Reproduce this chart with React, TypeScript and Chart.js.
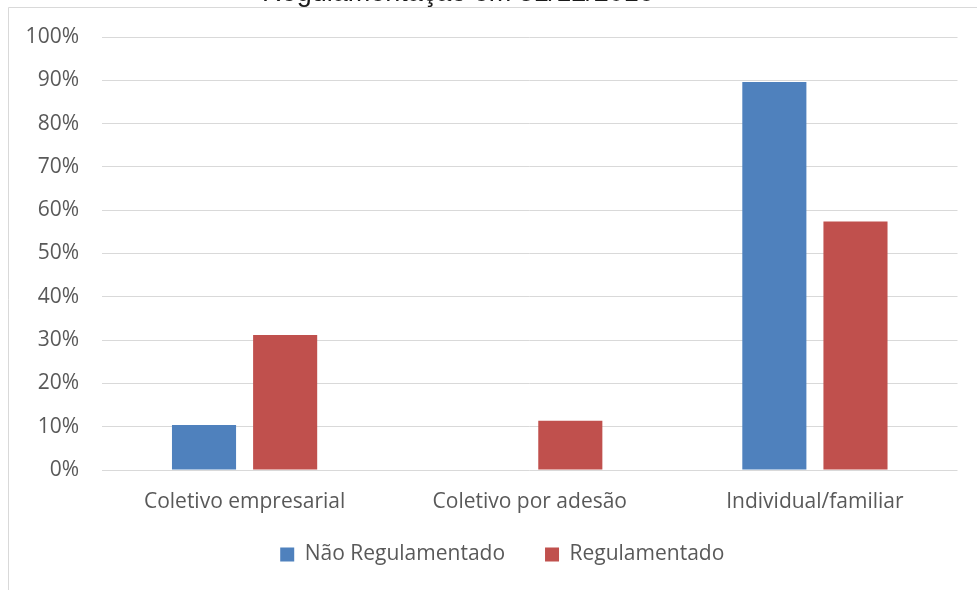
import React, { useEffect, useRef } from "react";
import { Chart, registerables } from "chart.js";

Chart.register(...registerables);

const categories = ["Coletivo empresarial", "Coletivo por adesão", "Individual/familiar"];
const naoRegulamentado = [10.4, 0, 89.6];
const regulamentado = [31.2, 11.4, 57.4];
const seriesNames = ["Não Regulamentado", "Regulamentado"];
const titleText = "Regulamentação em 31/12/2016";

const FONT = "'Open Sans', sans-serif";

const framePlugin = {
  id: "frame",
  afterLayout(chart: any) {
    const lg = chart.legend;
    if (lg) {
      lg.left += 23.5;
      lg.right += 23.5;
      lg.top -= 15;
      lg.bottom -= 15;
    }
  },
  beforeDraw(chart: any) {
    const ctx = chart.ctx;
    ctx.save();
    ctx.fillStyle = "#ffffff";
    ctx.fillRect(0, 0, chart.width, chart.height);
    ctx.strokeStyle = "#d9d9d9";
    ctx.lineWidth = 1;
    ctx.beginPath();
    ctx.moveTo(8.5, chart.height + 5);
    ctx.lineTo(8.5, 7.5);
    ctx.lineTo(chart.width + 5, 7.5);
    ctx.stroke();
    ctx.fillStyle = "#1a1a1a";
    ctx.font = "27px 'Liberation Sans', Arial, sans-serif";
    ctx.textAlign = "center";
    ctx.textBaseline = "alphabetic";
    ctx.fillText(titleText, 458, 1);
    ctx.restore();
  },
};

export default function App() {
  const ref = useRef<HTMLCanvasElement>(null);
  useEffect(() => {
    if (!ref.current) return;
    const chart = new Chart(ref.current, {
      type: "bar",
      data: {
        labels: categories,
        datasets: [
          {
            label: seriesNames[0],
            data: naoRegulamentado,
            backgroundColor: "#4F81BD",
            categoryPercentage: 0.569,
            barPercentage: 0.79,
          },
          {
            label: seriesNames[1],
            data: regulamentado,
            backgroundColor: "#C0504D",
            categoryPercentage: 0.569,
            barPercentage: 0.79,
          },
        ],
      },
      options: {
        responsive: false,
        animation: false,
        layout: { padding: { left: 0, right: 19.5, top: 37, bottom: 0 } },
        plugins: {
          title: { display: false },
          tooltip: { enabled: false },
          legend: {
            position: "bottom",
            labels: {
              boxWidth: 14,
              boxHeight: 14,
              padding: 40,
              color: "#595959",
              font: { family: FONT, size: 21 },
            },
          },
        },
        scales: {
          x: {
            grid: { display: false, drawTicks: false },
            border: { display: false },
            ticks: { color: "#595959", font: { family: FONT, size: 21 }, padding: 19, maxRotation: 0 },
            afterFit(scale: any) {
              scale.height = 49;
            },
          },
          y: {
            min: 0,
            max: 100,
            grid: { color: "#d9d9d9", drawTicks: false, lineWidth: 1 },
            border: { display: false },
            ticks: {
              stepSize: 10,
              color: "#595959",
              font: { family: FONT, size: 21 },
              padding: 23,
              callback: (v: any) => v + "%",
            },
            afterFit(scale: any) {
              scale.width = 102;
            },
          },
        },
      },
      plugins: [framePlugin],
    });
    return () => chart.destroy();
  }, []);
  return (
    <div style={{ position: "fixed", left: 0, top: 0, width: 977, height: 590, background: "#fff" }}>
      <canvas ref={ref} width={977} height={590} style={{ display: "block" }} />
    </div>
  );
}
